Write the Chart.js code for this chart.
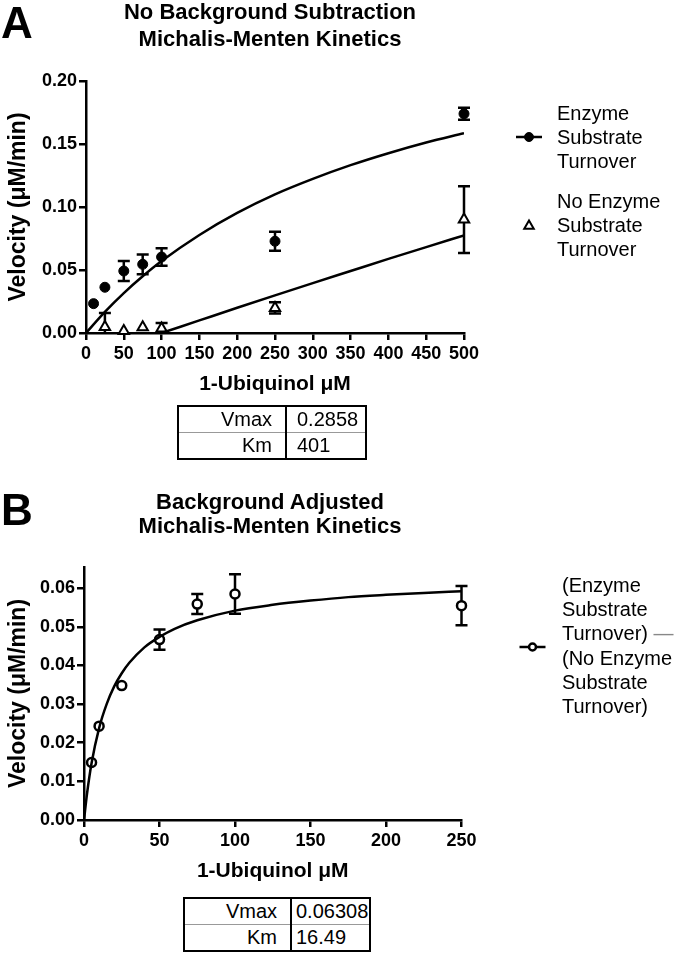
<!DOCTYPE html>
<html lang="en">
<head>
    <meta charset="UTF-8">
    <title>Michalis-Menten Kinetics</title>
    <script src="https://cdn.jsdelivr.net/npm/chart.js"></script>
    <style>
        body { margin: 0; background: #fff; }
        .page { position: relative; width: 680px; height: 954px; font-family: "Liberation Sans", Arial, sans-serif; color: #000; }
        canvas { position: absolute; left: 0; }
        .letter { position: absolute; font-weight: bold; font-size: 44px; line-height: 44px; }
        .title { position: absolute; left: 0; width: 540px; text-align: center; font-weight: bold; font-size: 22px; line-height: 27px; }
        .legend { position: absolute; font-size: 20px; line-height: 24px; white-space: nowrap; }
        .params { position: absolute; border-collapse: collapse; table-layout: fixed; border: 2.5px solid #000; font-size: 20px; }
        .params td { height: 25px; padding: 0; overflow: hidden; white-space: nowrap; }
        .params td:first-child { text-align: right; padding-right: 13px; border-right: 2.5px solid #000; }
        .params td:last-child { text-align: left; padding-left: 10px; }
        .params tr:first-child td { border-bottom: 1px solid #999; }
    </style>
</head>
<body>
<div class="page">
    <canvas id="chartA" width="680" height="410" style="top:0"></canvas>
    <canvas id="chartB" width="680" height="410" style="top:480px"></canvas>

    <div class="letter" style="left:1px; top:1px">A</div>
    <div class="title" style="top:-2px">No Background Subtraction<br>Michalis-Menten Kinetics</div>
    <div class="legend" style="left:557px; top:101px">Enzyme<br>Substrate<br>Turnover</div>
    <div class="legend" style="left:557px; top:189px">No Enzyme<br>Substrate<br>Turnover</div>
    <table class="params" style="left:177px; top:405px; width:190px">
        <colgroup><col style="width:108px"><col></colgroup>
        <tr><td>Vmax</td><td>0.2858</td></tr>
        <tr><td>Km</td><td>401</td></tr>
    </table>

    <div class="letter" style="left:1px; top:488px">B</div>
    <div class="title" style="top:490px; line-height:24px">Background Adjusted<br>Michalis-Menten Kinetics</div>
    <div class="legend" style="left:562px; top:573px; line-height:24.2px">(Enzyme<br>Substrate<br>Turnover) <span style="color:#888">—</span><br>(No Enzyme<br>Substrate<br>Turnover)</div>
    <table class="params" style="left:183px; top:897px; width:188px">
        <colgroup><col style="width:107px"><col></colgroup>
        <tr><td>Vmax</td><td style="padding-left:4px">0.06308</td></tr>
        <tr><td>Km</td><td style="padding-left:4px">16.49</td></tr>
    </table>
</div>

<script>
    // Panel A - raw velocities
    const concEnzyme = [10, 25, 50, 75, 100, 250, 500];
    const velEnzyme = [0.0233, 0.0363, 0.0492, 0.0545, 0.0603, 0.0728, 0.1740];
    const errEnzyme = [0, 0, 0.0080, 0.0079, 0.0070, 0.0076, 0.0048];

    const concNoEnzyme = [25, 50, 75, 100, 250, 500];
    const velNoEnzyme = [0.0048, 0.0015, 0.0045, 0.0035, 0.0199, 0.0900];
    const errNoEnzyme = [0.0110, 0, 0, 0.0045, 0.0045, 0.0265];

    // fitted curves
    const fitEnzymeX = [0, 25, 50, 75, 100, 150, 200, 250, 300, 350, 400, 450, 500];
    const fitEnzymeY = [0, 0.0168, 0.0317, 0.0450, 0.0571, 0.0778, 0.0953, 0.1100, 0.1223, 0.1332, 0.1427, 0.1512, 0.1586];
    const fitNoEnzymeX = [100, 150, 200, 250, 300, 350, 400, 450, 500];
    const fitNoEnzymeY = [0, 0.0100, 0.0200, 0.0299, 0.0396, 0.0492, 0.0588, 0.0682, 0.0775];

    // Panel B - background adjusted
    const concAdjusted = [5, 10, 25, 50, 75, 100, 250];
    const velAdjusted = [0.0149, 0.0243, 0.0348, 0.0467, 0.0559, 0.0585, 0.0555];
    const errAdjusted = [0, 0, 0, 0.0026, 0.0026, 0.0051, 0.0051];

    const fitAdjustedX = [0, 2, 5, 10, 15, 20, 25, 30, 40, 50, 60, 75, 100, 125, 150, 175, 200, 225, 250];
    const fitAdjustedY = [0, 0.0068, 0.0147, 0.0238, 0.0300, 0.0346, 0.0380, 0.0407, 0.0447, 0.0474, 0.0495, 0.0517, 0.0542, 0.0557, 0.0568, 0.0577, 0.0583, 0.0588, 0.0592];

    const xTitle = '1-Ubiquinol \u03bcM';
    const yTitle = 'Velocity (\u03bcM/min)';

    const toPoints = (xs, ys) => xs.map((x, i) => ({ x: x, y: ys[i] }));

    // draws SEM bars under the markers
    const errorBars = {
        id: 'errorBars',
        beforeDatasetsDraw(chart) {
            const { ctx, chartArea, scales } = chart;
            ctx.save();
            ctx.beginPath();
            ctx.rect(chartArea.left - 10, chartArea.top - 20, chartArea.width + 20, chartArea.height + 20);
            ctx.clip();
            ctx.strokeStyle = '#000';
            ctx.lineWidth = 2.5;
            chart.data.datasets.forEach(ds => {
                if (!ds.errors) return;
                ds.data.forEach((p, i) => {
                    const e = ds.errors[i];
                    if (!e) return;
                    const px = scales.x.getPixelForValue(p.x);
                    const top = scales.y.getPixelForValue(p.y + e);
                    const bot = scales.y.getPixelForValue(p.y - e);
                    ctx.beginPath();
                    ctx.moveTo(px, top); ctx.lineTo(px, bot);
                    ctx.moveTo(px - 6, top); ctx.lineTo(px + 6, top);
                    ctx.moveTo(px - 6, bot); ctx.lineTo(px + 6, bot);
                    ctx.stroke();
                });
            });
            ctx.restore();
        }
    };

    // legend symbols (text is html)
    const legendMarks = {
        id: 'legendMarks',
        afterDraw(chart, args, opts) {
            const ctx = chart.ctx;
            ctx.save();
            ctx.strokeStyle = '#000';
            ctx.lineWidth = 2.5;
            (opts.items || []).forEach(it => {
                if (it.line) {
                    ctx.beginPath();
                    ctx.moveTo(it.x - 13, it.y); ctx.lineTo(it.x + 13, it.y);
                    ctx.stroke();
                }
                ctx.beginPath();
                if (it.style === 'circle') {
                    ctx.arc(it.x, it.y, it.r, 0, Math.PI * 2);
                } else {
                    ctx.moveTo(it.x, it.y - it.r);
                    ctx.lineTo(it.x + it.r * 0.866, it.y + it.r * 0.5);
                    ctx.lineTo(it.x - it.r * 0.866, it.y + it.r * 0.5);
                    ctx.closePath();
                }
                ctx.fillStyle = it.fill;
                ctx.fill();
                ctx.lineWidth = it.lw;
                ctx.stroke();
                ctx.lineWidth = 2.5;
            });
            ctx.restore();
        }
    };

    function axis(max, step, width, height, decimals, isY) {
        return {
            type: 'linear',
            min: 0,
            max: max,
            border: { color: '#000', width: 2.5 },
            grid: { drawOnChartArea: false, color: '#000', lineWidth: 2.5, tickLength: 7 },
            ticks: {
                stepSize: step,
                color: '#000',
                padding: isY ? 2 : 3,
                maxRotation: 0,
                autoSkip: false,
                font: { family: '"Liberation Sans", Arial, sans-serif', size: 18, weight: 'bold' },
                callback: v => decimals ? Number(v).toFixed(decimals) : v
            },
            title: {
                display: true,
                text: isY ? yTitle : xTitle,
                color: '#000',
                font: { family: '"Liberation Sans", Arial, sans-serif', size: isY ? 23 : 21, weight: 'bold' }
            },
            afterBuildTicks: s => { s.ticks = s.ticks.filter(t => t.value <= max - (max % step) + 1e-9); },
            afterFit: s => { if (isY) s.width = width; else s.height = height; }
        };
    }

    const lineStyle = { showLine: true, borderColor: '#000', borderWidth: 2.5, pointRadius: 0, cubicInterpolationMode: 'monotone', fill: false };

    new Chart(document.getElementById('chartA'), {
        type: 'scatter',
        data: {
            datasets: [
                Object.assign({ data: toPoints(fitEnzymeX, fitEnzymeY) }, lineStyle),
                Object.assign({ data: toPoints(fitNoEnzymeX, fitNoEnzymeY) }, lineStyle),
                {
                    data: toPoints(concEnzyme, velEnzyme), errors: errEnzyme,
                    pointStyle: 'circle', pointRadius: 5, backgroundColor: '#000', borderColor: '#000', borderWidth: 1, clip: false
                },
                {
                    data: toPoints(concNoEnzyme, velNoEnzyme), errors: errNoEnzyme,
                    pointStyle: 'triangle', pointRadius: 6, backgroundColor: '#fff', borderColor: '#000', borderWidth: 2, clip: false
                }
            ]
        },
        options: {
            responsive: false,
            animation: false,
            devicePixelRatio: 1,
            layout: { padding: { left: 1, right: 216, top: 81, bottom: 9 } },
            scales: {
                x: axis(500, 50, 0, 68, 0, false),
                y: axis(0.2, 0.05, 85, 0, 2, true)
            },
            plugins: {
                legend: { display: false },
                tooltip: { enabled: false },
                legendMarks: {
                    items: [
                        { x: 529, y: 137, r: 4.5, style: 'circle', fill: '#000', lw: 1, line: true },
                        { x: 529, y: 226, r: 5.5, style: 'triangle', fill: '#fff', lw: 2, line: false }
                    ]
                }
            }
        },
        plugins: [errorBars, legendMarks]
    });

    new Chart(document.getElementById('chartB'), {
        type: 'scatter',
        data: {
            datasets: [
                Object.assign({ data: toPoints(fitAdjustedX, fitAdjustedY) }, lineStyle),
                {
                    data: toPoints(concAdjusted, velAdjusted), errors: errAdjusted,
                    pointStyle: 'circle', pointRadius: 4.5, backgroundColor: '#fff', borderColor: '#000', borderWidth: 2.5, clip: false
                }
            ]
        },
        options: {
            responsive: false,
            animation: false,
            devicePixelRatio: 1,
            layout: { padding: { left: 1, right: 218.5, top: 87, bottom: 2 } },
            scales: {
                x: axis(250, 50, 0, 68, 0, false),
                y: axis(0.0655, 0.01, 83, 0, 2, true)
            },
            plugins: {
                legend: { display: false },
                tooltip: { enabled: false },
                legendMarks: {
                    items: [
                        { x: 532.5, y: 167, r: 3.5, style: 'circle', fill: '#fff', lw: 2.5, line: true }
                    ]
                }
            }
        },
        plugins: [errorBars, legendMarks]
    });
</script>
</body>
</html>
